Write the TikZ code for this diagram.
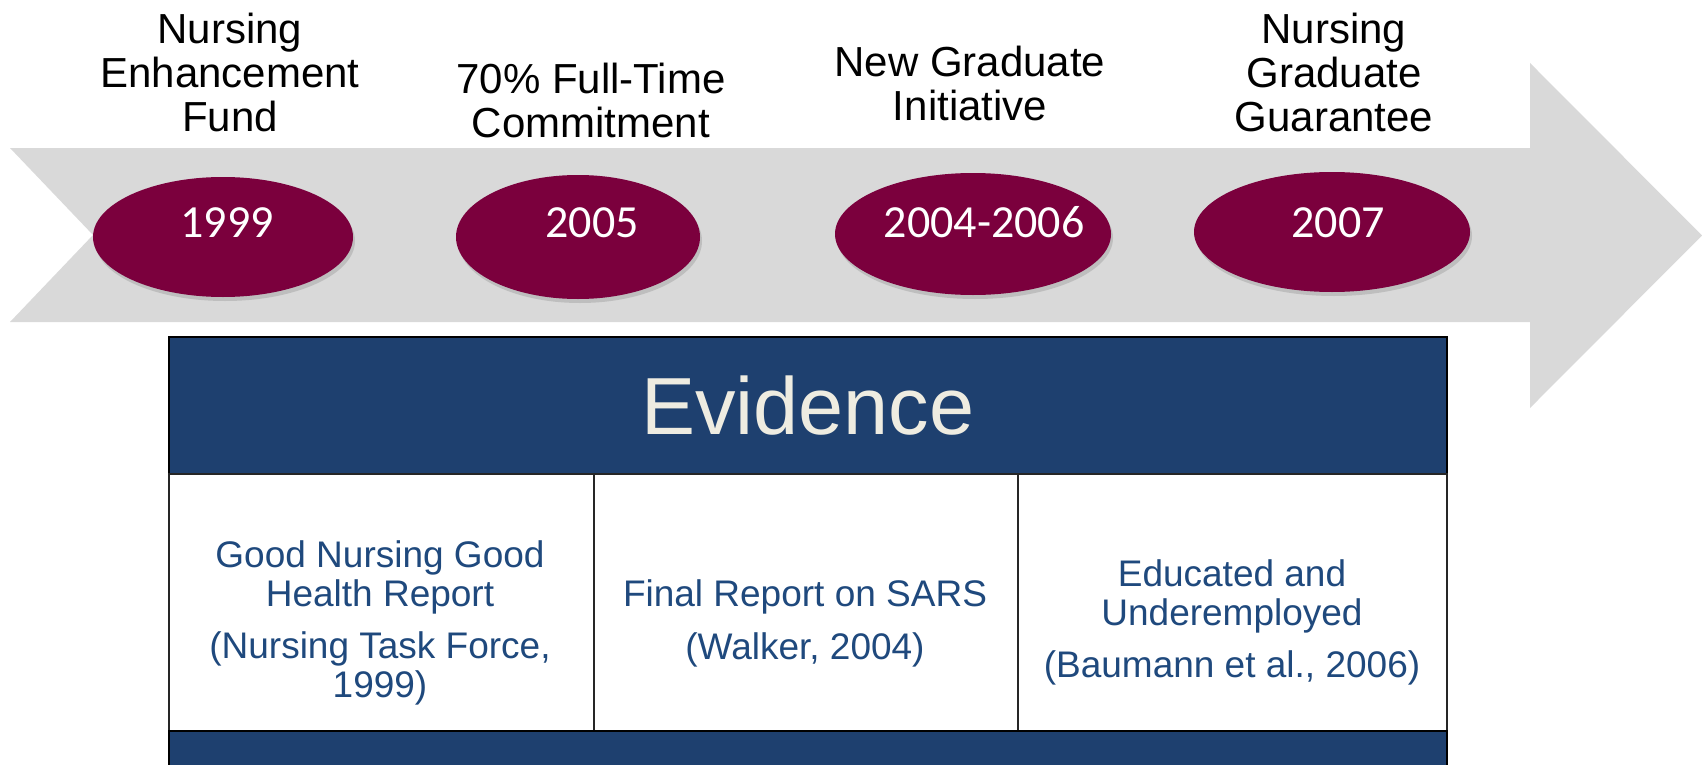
\documentclass[tikz,border=0pt]{standalone}
\usepackage{fontspec}
\setmainfont{Liberation Sans}
\newfontfamily\calib{Carlito}
\usetikzlibrary{shapes.geometric,shadows}
\definecolor{arrowgray}{HTML}{D9D9D9}
\definecolor{maroon}{HTML}{7B003D}
\definecolor{navy}{HTML}{1E406F}
\definecolor{celltxt}{HTML}{1F497D}
\definecolor{evid}{HTML}{EEECE1}
\begin{document}
\begin{tikzpicture}[x=1pt,y=-1pt,
  yearoval/.style={ellipse, fill=maroon, draw=none, inner sep=0pt,
    drop shadow={shadow xshift=2pt,shadow yshift=-4pt,opacity=0.3}},
  yeartext/.style={font=\calib\fontsize{46}{46}\selectfont, text=white, anchor=base, inner sep=0pt},
  toplabel/.style={font=\fontsize{42}{44}\selectfont, align=center, anchor=north, inner sep=0pt},
  celltext/.style={font=\fontsize{37}{38.5}\selectfont, text=celltxt, align=center, anchor=north, inner sep=0pt},
  cellbox/.style={rectangle, draw=black!85, line width=1.5pt, fill=white, inner sep=0pt, anchor=north west},
]
\useasboundingbox (0,0) rectangle (1702,765);
\clip (0,0) rectangle (1702,765);
% timeline arrow
\fill[arrowgray] (10,148) -- (1530,148) -- (1530,63) -- (1702,235.5) -- (1530,408)
  -- (1530,322) -- (10,322) -- (93,235) -- cycle;
% year ovals
\node[yearoval, minimum width=260pt, minimum height=120pt] (e1) at (223,237) {};
\node[yearoval, minimum width=244pt, minimum height=124pt] (e2) at (578,237) {};
\node[yearoval, minimum width=276pt, minimum height=122pt] (e3) at (973,234) {};
\node[yearoval, minimum width=276pt, minimum height=120pt] (e4) at (1332,232) {};
\node[yeartext] (y1) at (227,237) {1999};
\node[yeartext] (y2) at (592,237) {2005};
\node[yeartext] (y3) at (984,237) {2004-2006};
\node[yeartext] (y4) at (1338,237) {2007};
% top labels
\node[toplabel] (l1) at (230,13) {Nursing\\Enhancement\\Fund};
\node[toplabel] (l2) at (591,63) {70\% Full-Time\\Commitment};
\node[toplabel] (l3) at (970,46) {New Graduate\\Initiative};
\node[toplabel] (l4) at (1334,13) {Nursing\\Graduate\\Guarantee};
% evidence table
\node[cellbox, fill=navy, draw=black, minimum width=1278pt, minimum height=137pt,
  font=\fontsize{81}{81}\selectfont, text=evid] (hdr) at (168,336) {Evidence};
\node[cellbox, minimum width=425pt, minimum height=257pt] (c1) at (168,473) {};
\node[cellbox, minimum width=424pt, minimum height=257pt] (c2) at (593,473) {};
\node[cellbox, minimum width=429pt, minimum height=257pt] (c3) at (1017,473) {};
\node[cellbox, fill=navy, draw=black, minimum width=1278pt, minimum height=60pt] (foot) at (168,730) {};
\node[celltext] (t1) at (380,540.5) {Good Nursing Good\\Health Report\\[14pt](Nursing Task Force,\\1999)};
\node[celltext] (t2) at (805,579.5) {Final Report on SARS\\[14pt](Walker, 2004)};
\node[celltext] (t3) at (1232,559.5) {Educated and\\Underemployed\\[14pt](Baumann et al., 2006)};
\end{tikzpicture}
\end{document}
